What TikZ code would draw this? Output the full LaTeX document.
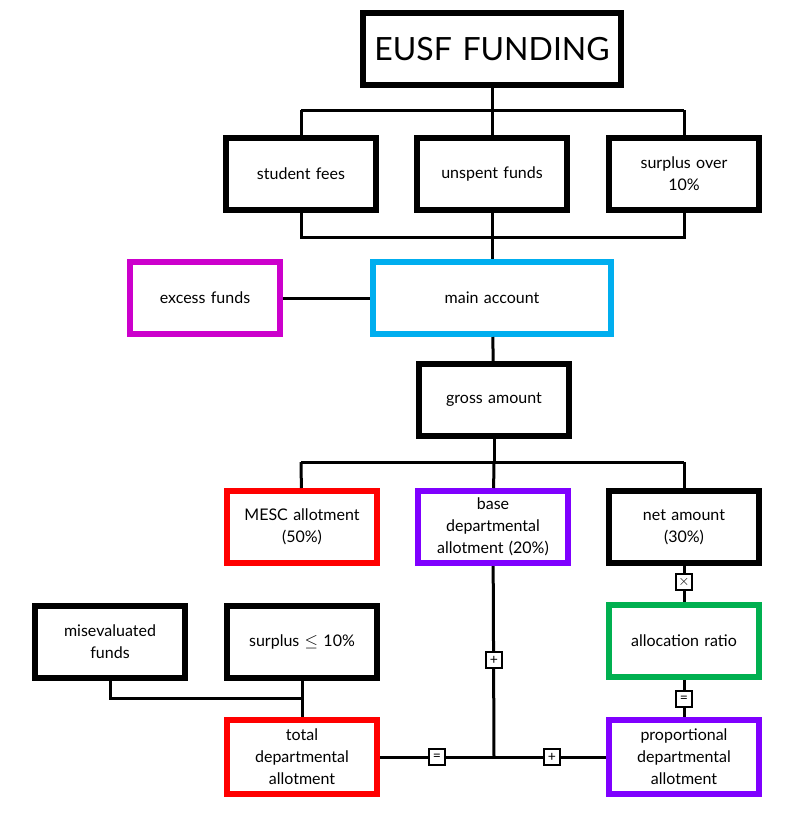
\documentclass[tikz,border=0pt]{standalone}
\usepackage{fontspec}
\setmainfont{Lato}
\usepackage{amssymb}
\definecolor{boxred}{RGB}{255,0,0}
\definecolor{boxcyan}{RGB}{0,174,239}
\definecolor{boxmagenta}{RGB}{204,0,204}
\definecolor{boxpurple}{RGB}{127,0,255}
\definecolor{boxgreen}{RGB}{0,176,80}
\begin{document}
\begin{tikzpicture}[x=1pt,y=-1pt,line width=3pt,
    box/.style={draw=black,line width=6pt,rectangle,fill=white,minimum width=150pt,minimum height=72pt,align=center,font=\fontsize{16}{22}\selectfont,text width=135pt},
    op/.style={draw=black,line width=2.5pt,rectangle,fill=white,minimum size=16pt,inner sep=0pt,font=\fontsize{14}{14}\selectfont}]
                \useasboundingbox (0,0) rectangle (800,814);
                \node[box,minimum width=258pt,minimum height=72pt,text width=250pt,font=\fontsize{32}{36}\selectfont] (eusf) at (492,49) {EUSF FUNDING};
                \node[box] (fees) at (301,174) {student fees};
                \node[box] (unspent) at (492,174) {unspent funds};
                \node[box] (surplus) at (684,174) {surplus over\\10\%};
                \node[box,draw=boxmagenta] (excess) at (205,298) {excess funds};
                \node[box,draw=boxcyan,minimum width=238pt] (main) at (492,298) {main account};
                \node[box] (gross) at (494,400) {gross amount};
                \node[box,draw=boxred] (mesc) at (302,527) {MESC allotment\\(50\%)};
                \node[box,draw=boxpurple] (base) at (493,527) {base\\departmental\\allotment (20\%)};
                \node[box] (net) at (684,527) {net amount\\(30\%)};
                \node[box] (misev) at (110,642) {misevaluated\\funds};
                \node[box] (surpless) at (302,642) {surplus $\leq$ 10\%};
                \node[box,draw=boxgreen] (ratio) at (684,641) {allocation ratio};
                \node[box,draw=boxred,minimum height=74pt] (total) at (302,757) {total\\departmental\\allotment};
                \node[box,draw=boxpurple,minimum height=74pt] (prop) at (684,757) {proportional\\departmental\\allotment};

                \coordinate (top) at (492,110);
                \coordinate (topl) at (301,110);
                \coordinate (topr) at (684,110);
                \coordinate (midl) at (301,237);
                \coordinate (mid) at (492,237);
                \coordinate (midr) at (684,237);
                \coordinate (grl) at (301,462);
                \coordinate (gr) at (494,462);
                \coordinate (grr) at (684,462);
                \coordinate (misl) at (110,698);
                \coordinate (misr) at (301,698);
                \coordinate (join) at (494,757);

                \draw (eusf) -- (top);
                \draw (topl) -- (topr);
                \draw (topl) -- (fees);
                \draw (top) -- (unspent);
                \draw (topr) -- (surplus);
                \draw (fees) -- (midl) -- (midr) -- (surplus);
                \draw (unspent) -- (mid) -- (main);
                \draw (excess) -- (main);
                \draw (main) -- (gross);
                \draw (gross) -- (gr);
                \draw (grl) -- (grr);
                \draw (grl) -- (mesc);
                \draw (gr) -- (base);
                \draw (grr) -- (net);
                \draw (misev) -- (misl) -- (misr);
                \draw (surpless) -- (total);
                \draw (base) -- (join);
                \draw (total) -- (prop);
                \draw (net) -- (ratio);
                \draw (ratio) -- (prop);

                \node[op] (plusv) at (494,660) {+};
                \node[op] (eqh) at (437,757) {=};
                \node[op] (plush) at (552,757) {+};
                \node[op] (times) at (684,582) {$\times$};
                \node[op] (eqv) at (684,699) {=};
            \end{tikzpicture}
\end{document}
